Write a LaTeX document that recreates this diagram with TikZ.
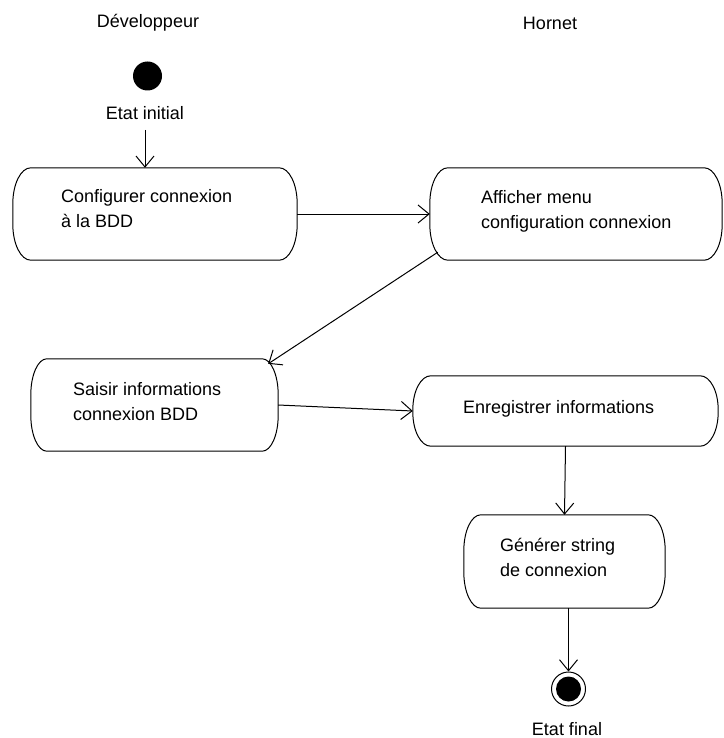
\documentclass[tikz,border=0pt]{standalone}
\usepackage{fontspec}
\setmainfont{Liberation Sans}
\usetikzlibrary{arrows.meta,calc}

% outline of an action state: flat top and bottom, elliptic corners
\newcommand{\actoutline}[3]{%
  \draw[line width=1pt]
    ($(#1.north west)+(#2,0)$) -- ($(#1.north east)+(-#2,0)$)
    arc[start angle=90,end angle=0,x radius=#2,y radius=#3]
    -- ($(#1.south east)+(0,#3)$)
    arc[start angle=0,end angle=-90,x radius=#2,y radius=#3]
    -- ($(#1.south west)+(#2,0)$)
    arc[start angle=270,end angle=180,x radius=#2,y radius=#3]
    -- ($(#1.north west)+(0,-#3)$)
    arc[start angle=180,end angle=90,x radius=#2,y radius=#3]
    -- cycle;}

\tikzset{
  flow/.style={line width=1pt,
    -{Straight Barb[length=11pt,width=18pt,line width=1pt]}},
  actbox/.style={rectangle, draw=none, inner sep=0pt},
  acttext/.style={align=left, inner sep=0pt,
    font=\fontsize{18}{25}\selectfont},
  lbl/.style={inner sep=0pt, font=\fontsize{18}{22}\selectfont},
}

\begin{document}
\begin{tikzpicture}[x=1pt,y=1pt]
\useasboundingbox (0,0) rectangle (723,-738);

% swimlane titles
\node[lbl, anchor=base] (lane1) at (148,-28) {Développeur};
\node[lbl, anchor=base] (lane2) at (550,-30) {Hornet};

% initial state
\node[circle, fill=black, minimum size=29pt, inner sep=0pt] (init) at (147.5,-76) {};
\node[lbl, anchor=base] (initlbl) at (145,-120) {Etat initial};

% action states
\node[actbox, minimum width=284pt, minimum height=92pt] (b1) at (155,-214) {};
\node[actbox, minimum width=292pt, minimum height=92pt] (b2) at (576,-214) {};
\node[actbox, minimum width=247pt, minimum height=92pt] (b3) at (154.5,-405) {};
\node[actbox, minimum width=305pt, minimum height=70pt] (b4) at (565.5,-411) {};
\node[actbox, minimum width=201pt, minimum height=93pt] (b5) at (564.5,-561.5) {};

\actoutline{b1}{18}{36}
\actoutline{b2}{18}{36}
\actoutline{b3}{16}{36}
\actoutline{b4}{18}{34}
\actoutline{b5}{17}{36}

% labels, anchored on the baseline of their last line
\node[acttext, anchor=base west] (t1) at (61,-227) {Configurer connexion\\à la BDD};
\node[acttext, anchor=base west] (t2) at (481,-228) {Afficher menu\\configuration connexion};
\node[acttext, anchor=base west] (t3) at (73,-420) {Saisir informations\\connexion BDD};
\node[acttext, anchor=base west] (t4) at (463,-413) {Enregistrer informations};
\node[acttext, anchor=base west] (t5) at (500,-576) {Générer string\\de connexion};

% final state
\node[circle, draw, line width=1pt, fill=white, minimum size=34pt, inner sep=0pt] (fin) at (568.5,-689) {};
\fill (fin.center) circle (12.5);
\node[lbl, anchor=base] (finlbl) at (567,-735) {Etat final};

% transitions
\draw[flow] ([yshift=-10pt]initlbl.base) -- (initlbl.base |- b1.north);
\draw[flow] (b1.east) -- (b2.west);
\draw[flow] ([shift={(8,8)}]b2.south west) -- ([shift={(-10,-5)}]b3.north east);
\draw[flow] (b3.east) -- (b4.west);
\draw[flow] (b4.south) -- (b5.north);
\draw[flow] (b5.south -| fin) -- (fin.north);
\end{tikzpicture}
\end{document}
